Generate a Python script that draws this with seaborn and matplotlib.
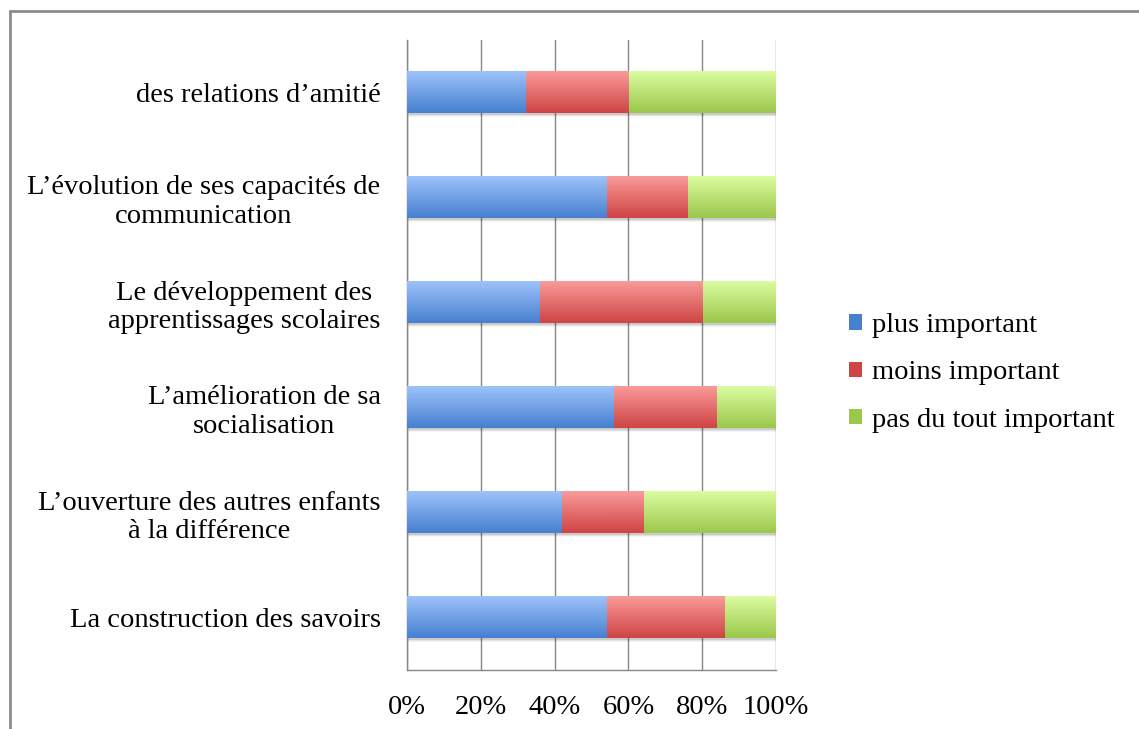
import numpy as np
import pandas as pd
import matplotlib.pyplot as plt
import seaborn as sns
from matplotlib.patches import Patch, Rectangle
from matplotlib.lines import Line2D
from matplotlib.colors import to_rgb

# Data (in %)
categories = [
    "des relations d’amitié",
    "L’évolution de ses capacités de\ncommunication",
    "Le développement des\napprentissages scolaires",
    "L’amélioration de sa\nsocialisation",
    "L’ouverture des autres enfants\nà la différence",
    "La construction des savoirs",
]
plus_important = [32, 54, 36, 56, 42, 54]
moins_important = [28, 22, 44, 28, 22, 32]
pas_du_tout_important = [40, 24, 20, 16, 36, 14]
series = ["plus important", "moins important", "pas du tout important"]
x_ticks = [0, 20, 40, 60, 80, 100]

# gradient colours (top, bottom) per series
blue = ("#9dc2fa", "#4780d0")
red = ("#fa9a9a", "#cf4444")
green = ("#dbfca0", "#9bc74b")
grey = "#868686"

sns.set_style("white")
plt.rcParams["font.family"] = ["Liberation Serif", "DejaVu Serif"]
plt.rcParams["font.size"] = 20.5
plt.rcParams["text.color"] = "black"
plt.rcParams["xtick.labelcolor"] = "black"
plt.rcParams["ytick.labelcolor"] = "black"

df = pd.DataFrame({
    "categorie": categories,
    "plus": plus_important,
    "moins": moins_important,
    "pas": pas_du_tout_important,
})
df["c1"] = df["plus"]
df["c2"] = df["plus"] + df["moins"]
df["c3"] = df["c2"] + df["pas"]

fig = plt.figure(figsize=(11.39, 7.29), dpi=100)
ax = fig.add_axes([407 / 1139, 59 / 729, 369 / 1139, 630 / 729])

# stacked bars: draw cumulative totals, largest first
layers = [("c3", green), ("c2", red), ("c1", blue)]
for col, (top, bot) in layers:
    sns.barplot(data=df, x=col, y="categorie", orient="h", color=bot,
                saturation=1, width=0.4, ax=ax, errorbar=None)

# replace flat fills by vertical gradients, keep the bar geometry from seaborn
n = len(categories)
for i, p in enumerate(list(ax.patches)):
    top, bot = layers[i // n][1]
    x0, y0, w, h = p.get_x(), p.get_y(), p.get_width(), p.get_height()
    grad = np.linspace(to_rgb(top), to_rgb(bot), 64).reshape(64, 1, 3)
    z = 3 + i // n
    ax.imshow(grad, extent=(x0, x0 + w, y0 + h, y0), origin="upper",
              aspect="auto", zorder=z, interpolation="bilinear")
    p.set_visible(False)
    if i < n:
        # soft drop shadow under the full bar
        for k, a in enumerate([0.10, 0.07, 0.04]):
            ax.add_patch(Rectangle((x0 + 0.2, y0 + 0.012 * (k + 1)), w, h,
                                   facecolor="black", alpha=a, lw=0, zorder=2.5))

ax.set_xlim(0, 100)
ax.set_ylim(n - 0.5, -0.5)
ax.set_xticks(x_ticks)
ax.set_xticklabels([f"{v}%" for v in x_ticks])
ax.set_yticks(range(n))
ax.set_yticklabels(categories)
for lbl in ax.get_yticklabels():
    lbl.set_multialignment("center")
ax.set_yticks(np.arange(-0.5, n), minor=True)
ax.set_xlabel("")
ax.set_ylabel("")

ax.tick_params(axis="y", which="major", length=0, pad=19)
ax.tick_params(axis="y", which="minor", length=6, width=1, color=grey)
ax.tick_params(axis="x", length=6, width=1, color=grey, pad=12)
ax.xaxis.grid(True, color=grey, lw=1, zorder=1)
ax.yaxis.grid(False)
ax.set_axisbelow(True)
for s in ["top", "right"]:
    ax.spines[s].set_visible(False)
for s in ["left", "bottom"]:
    ax.spines[s].set_color(grey)
    ax.spines[s].set_linewidth(1)

handles = [Patch(facecolor=c[1], edgecolor="none") for c in [blue, red, green]]
fig.legend(handles, series, loc="center left",
           bbox_to_anchor=(849 / 1139, 1 - 373 / 729), frameon=False,
           handlelength=0.47, handleheight=0.47, handletextpad=0.35,
           labelspacing=0.78, borderpad=0, borderaxespad=0)

# outer frame (top and left edges only are visible)
fig.add_artist(Line2D([10 / 1139, 1], [1 - 11 / 729] * 2,
                      transform=fig.transFigure, color="#8c8c8c", lw=2))
fig.add_artist(Line2D([10 / 1139] * 2, [0, 1 - 11 / 729],
                      transform=fig.transFigure, color="#8c8c8c", lw=2))

fig.savefig("out.png", dpi=100)
